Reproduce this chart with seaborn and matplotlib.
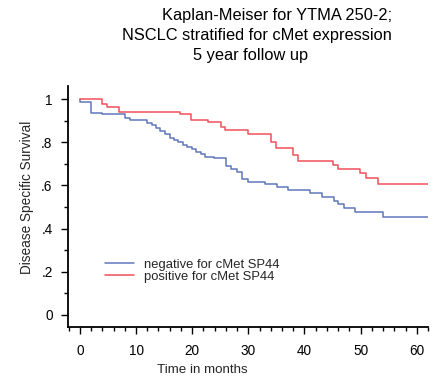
import matplotlib
matplotlib.use("Agg")
import matplotlib.pyplot as plt
import pandas as pd
import seaborn as sns
from matplotlib.ticker import FuncFormatter, MultipleLocator

# Kaplan-Meier step curves (months, survival)
neg_months = [0, 0, 2.0, 4.0, 8.1, 8.9, 12.0, 12.8, 13.5, 14.3, 15.1, 16.0, 16.7,
              17.5, 18.3, 19.0, 19.9, 20.7, 21.5, 22.3, 23.9, 26.0, 26.9, 27.9,
              28.9, 29.9, 32.9, 35.1, 37.0, 41.0, 43.1, 45.2, 46.0, 47.1, 49.0,
              54.0, 62.0]
neg_surv = [1.0, 0.985, 0.935, 0.931, 0.912, 0.903, 0.891, 0.878, 0.866, 0.852,
            0.838, 0.822, 0.810, 0.799, 0.789, 0.780, 0.768, 0.757, 0.745, 0.733,
            0.725, 0.691, 0.676, 0.661, 0.630, 0.614, 0.606, 0.591, 0.579, 0.563,
            0.545, 0.529, 0.514, 0.494, 0.478, 0.455, 0.455]

pos_months = [0, 3.9, 4.9, 7.0, 17.8, 19.8, 22.9, 25.1, 25.8, 30.0, 34.0, 34.9,
              38.0, 38.9, 45.0, 45.9, 49.9, 51.0, 53.1, 62.0]
pos_surv = [1.0, 0.977, 0.962, 0.941, 0.931, 0.903, 0.892, 0.872, 0.856, 0.838,
            0.802, 0.775, 0.741, 0.713, 0.694, 0.676, 0.656, 0.633, 0.605, 0.605]

groups = ["negative for cMet SP44", "positive for cMet SP44"]
colors = ["#5f76bb", "#f0505a"]

title_lines = ["Kaplan-Meiser for YTMA 250-2;",
               "NSCLC stratified for cMet expression",
               "5 year follow up"]

df = pd.concat([
    pd.DataFrame({"months": neg_months, "survival": neg_surv, "group": groups[0]}),
    pd.DataFrame({"months": pos_months, "survival": pos_surv, "group": groups[1]}),
], ignore_index=True)

sns.set_style("ticks")
plt.rcParams["font.family"] = ["Liberation Sans", "DejaVu Sans"]

fig = plt.figure(figsize=(4.35, 3.78), dpi=100)
ax = fig.add_axes([0.156, 0.135, 0.828, 0.637])

sns.lineplot(data=df, x="months", y="survival", hue="group",
             palette=dict(zip(groups, colors)), estimator=None, sort=False,
             drawstyle="steps-post", linewidth=1.1, ax=ax)

ax.set_xlim(-2.14, 62.0)
ax.set_ylim(-0.056, 1.06)
ax.xaxis.set_major_locator(MultipleLocator(10))
ax.xaxis.set_minor_locator(MultipleLocator(2))
ax.yaxis.set_major_locator(MultipleLocator(0.2))
ax.yaxis.set_minor_locator(MultipleLocator(0.1))
ax.yaxis.set_major_formatter(FuncFormatter(
    lambda v, _: "0" if abs(v) < 1e-9 else ("1" if abs(v - 1) < 1e-9 else f"{v:.1f}".lstrip("0"))))

ax.tick_params(which="major", direction="out", length=5, width=1, color="black",
               labelsize=9.8, labelcolor="black")
ax.tick_params(axis="y", which="major", pad=6)
ax.tick_params(axis="x", which="major", pad=7)
ax.tick_params(which="minor", direction="out", length=3, width=1, color="black")

for side in ["top", "right"]:
    ax.spines[side].set_visible(False)
for side in ["left", "bottom"]:
    ax.spines[side].set_color("black")
    ax.spines[side].set_linewidth(1.3)

ax.set_xlabel("Time in months", fontsize=9.6)
ax.set_ylabel("Disease Specific Survival", fontsize=9.8)
ax.xaxis.set_label_coords(0.372, -0.152)
ax.yaxis.set_label_coords(-0.094, 0.537)

sns.move_legend(ax, loc="center left", bbox_to_anchor=(0.103, 0.233),
                frameon=False, title=None, fontsize=9.4, handlelength=2.2,
                handletextpad=0.8, labelspacing=0.0, borderpad=0, borderaxespad=0)

for x, y, line in zip([0.581, 0.525, 0.508], [1.295, 1.212, 1.129], title_lines):
    ax.text(x, y, line, transform=ax.transAxes, ha="center", va="center",
            fontsize=11.8, color="black")

fig.savefig("out.png", dpi=100)
plt.close(fig)
